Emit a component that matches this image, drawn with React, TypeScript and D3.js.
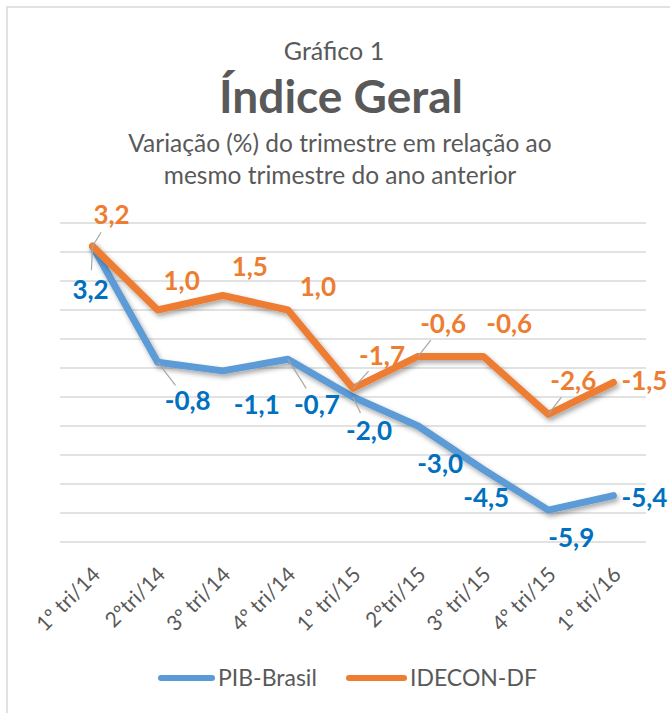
import React from "react";
import * as d3 from "d3";

const categories = ["1º tri/14", "2ºtri/14", "3º tri/14", "4º tri/14", "1º tri/15", "2ºtri/15", "3º tri/15", "4º tri/15", "1º tri/16"];
const pibBrasil = [3.2, -0.8, -1.1, -0.7, -2.0, -3.0, -4.5, -5.9, -5.4];
const idecon = [3.2, 1.0, 1.5, 1.0, -1.7, -0.6, -0.6, -2.6, -1.5];
const yTicks = [-7, -6, -5, -4, -3, -2, -1, 0, 1, 2, 3, 4];

// label offsets (layout): [dx, dy] from point to label center
const pibLabelOffsets: [number, number][] = [[-2, 44], [30, 39], [34, 34], [29, 46], [16, 34], [22, 38], [3, 28], [23, 28], [31, 2]];
const ideconLabelOffsets: [number, number][] = [[19, -31], [24, -29], [27, -29], [30, -23], [29, -32], [25, -32], [26, -32], [25, -33], [31, -1.5]];
const pibLeaders = [0, 1, 3, 4];
const ideconLeaders = [0, 4, 5, 7];

const W = 670, H = 713;
const FONT = "Lato, 'Open Sans', sans-serif";
const BLUE = "#5B9BD5", ORANGE = "#ED7D31", BLUE_LBL = "#0070C0", GRAY = "#595959";

export default function App() {
  const x = d3.scalePoint<string>().domain(categories).range([60, 646]).padding(0.5);
  const y = d3.scaleLinear().domain([-7, 4]).range([542, 223]);
  const line = d3.line<number>().x((_, i) => x(categories[i])!).y((d) => y(d));
  const fmt = (v: number) => v.toFixed(1).replace(".", ",");

  const leader = (v: number, i: number, off: [number, number]) => {
    const px = x(categories[i])!, py = y(v);
    const dist = Math.hypot(off[0], off[1]);
    const len = Math.max(dist - 20, 6);
    return { x1: px, y1: py, x2: px + (off[0] / dist) * len, y2: py + (off[1] / dist) * len };
  };

  return (
    <svg width={W} height={H} style={{ position: "absolute", left: 0, top: 0, background: "#fff" }} fontFamily={FONT}>
      <defs>
        <filter id="sh" x="-10%" y="-10%" width="120%" height="130%">
          <feDropShadow dx="2" dy="3" stdDeviation="2.5" floodColor="#000" floodOpacity="0.35" />
        </filter>
      </defs>
      <rect x={0} y={0} width={W} height={H} fill="#fff" />
      <rect x={7} y={7} width={700} height={750} fill="none" stroke="#D9D9D9" strokeWidth={1.5} />
      <text x={334} y={60} textAnchor="middle" fontSize={25} fill={GRAY}>Gráfico 1</text>
      <text x={341} y={113} textAnchor="middle" fontSize={46} fontWeight="bold" fill={GRAY}>Índice Geral</text>
      <text x={340} y={152} textAnchor="middle" fontSize={24.5} fill={GRAY}>Variação (%) do trimestre em relação ao</text>
      <text x={340} y={184} textAnchor="middle" fontSize={24.5} fill={GRAY}>mesmo trimestre do ano anterior</text>

      {yTicks.map((t) => (
        <line key={t} x1={60} x2={646} y1={y(t)} y2={y(t)} stroke="#D9D9D9" strokeWidth={1.3} />
      ))}

      {categories.map((c) => (
        <text key={c} transform={`translate(${x(c)! + 9},${576}) rotate(-45)`} textAnchor="end" fontSize={21} fill={GRAY}>{c}</text>
      ))}

      <path d={line(pibBrasil)!} fill="none" stroke={BLUE} strokeWidth={7} strokeLinejoin="round" strokeLinecap="round" filter="url(#sh)" />
      <path d={line(idecon)!} fill="none" stroke={ORANGE} strokeWidth={7} strokeLinejoin="round" strokeLinecap="round" filter="url(#sh)" />

      {pibLeaders.map((i) => {
        const l = leader(pibBrasil[i], i, pibLabelOffsets[i]);
        return <line key={"pl" + i} {...l} stroke="#A6A6A6" strokeWidth={1.2} />;
      })}
      {ideconLeaders.map((i) => {
        const l = leader(idecon[i], i, ideconLabelOffsets[i]);
        return <line key={"il" + i} {...l} stroke="#A6A6A6" strokeWidth={1.2} />;
      })}

      {pibBrasil.map((v, i) => (
        <text key={"pt" + i} x={x(categories[i])! + pibLabelOffsets[i][0]} y={y(v) + pibLabelOffsets[i][1] + 9}
          textAnchor="middle" fontSize={26} fontWeight="bold" fill={BLUE_LBL}>{fmt(v)}</text>
      ))}
      {idecon.map((v, i) => (
        <text key={"it" + i} x={x(categories[i])! + ideconLabelOffsets[i][0]} y={y(v) + ideconLabelOffsets[i][1] + 9}
          textAnchor="middle" fontSize={26} fontWeight="bold" fill={ORANGE}>{fmt(v)}</text>
      ))}

      <line x1={161} x2={212} y1={678} y2={678} stroke={BLUE} strokeWidth={6} strokeLinecap="round" />
      <text x={218} y={686} fontSize={23} fill={GRAY}>PIB-Brasil</text>
      <line x1={349} x2={404} y1={678} y2={678} stroke={ORANGE} strokeWidth={6} strokeLinecap="round" />
      <text x={410} y={686} fontSize={23} fill={GRAY}>IDECON-DF</text>
    </svg>
  );
}
